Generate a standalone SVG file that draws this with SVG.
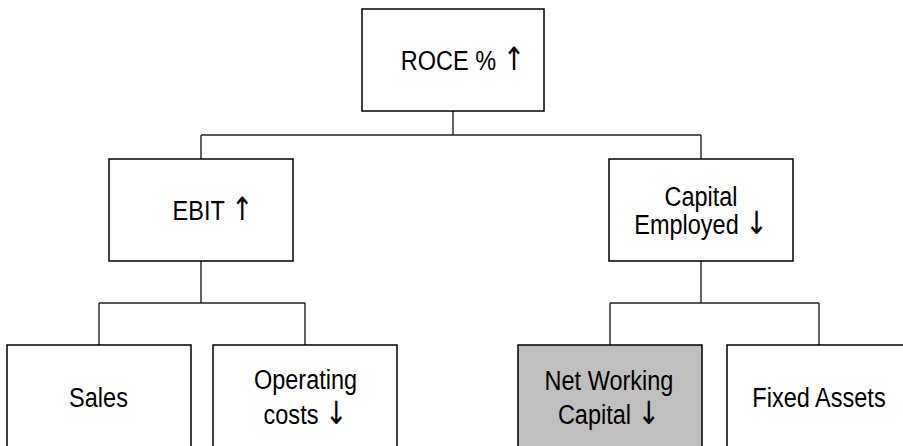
<svg xmlns="http://www.w3.org/2000/svg" width="903" height="446" viewBox="0 0 903 446">
  <style>
    .box { fill: #ffffff; stroke: #000000; stroke-width: 1.5; }
    .box.hl { fill: #bfbfbf; }
    .lbl { font-family: "Liberation Sans", Arial, sans-serif; font-size: 28px; fill: #000000; text-anchor: middle; }
    .arr { font-family: "DejaVu Sans", sans-serif; font-size: 32px; fill: #000000; }
    .wire { fill: none; stroke: #222222; stroke-width: 1.4; }
  </style>

  <!-- tree connectors -->
  <g id="connectors">
    <path class="wire" d="M453 111 V135 M201 135 H701 M201 135 V159 M701 135 V159"/>
    <path class="wire" d="M201 261 V303 M99 303 H305 M99 303 V345 M305 303 V345"/>
    <path class="wire" d="M701 261 V303 M610 303 H819 M610 303 V345 M819 303 V345"/>
  </g>

  <g id="roce">
    <rect class="box" x="362" y="9" width="182" height="102"/>
    <text class="lbl" transform="translate(463 70) scale(0.84 1)">ROCE % <tspan class="arr">↑</tspan></text>
  </g>

  <g id="ebit">
    <rect class="box" x="109" y="159" width="184" height="102"/>
    <text class="lbl" transform="translate(213 220) scale(0.84 1)">EBIT <tspan class="arr">↑</tspan></text>
  </g>

  <g id="capital-employed">
    <rect class="box" x="609" y="159" width="184" height="102"/>
    <text class="lbl" transform="translate(701 205.5) scale(0.84 1)">Capital</text>
    <text class="lbl" transform="translate(701 233.5) scale(0.84 1)">Employed <tspan class="arr">↓</tspan></text>
  </g>

  <g id="sales">
    <rect class="box" x="7" y="345" width="184" height="112"/>
    <text class="lbl" transform="translate(98.5 406.5) scale(0.84 1)">Sales</text>
  </g>

  <g id="operating-costs">
    <rect class="box" x="213" y="345" width="184" height="112"/>
    <text class="lbl" transform="translate(305.5 388.5) scale(0.84 1)">Operating</text>
    <text class="lbl" transform="translate(305.5 423.5) scale(0.84 1)">costs <tspan class="arr">↓</tspan></text>
  </g>

  <g id="net-working-capital">
    <rect class="box hl" x="518" y="345" width="184" height="112"/>
    <text class="lbl" transform="translate(609 389.5) scale(0.84 1)">Net Working</text>
    <text class="lbl" transform="translate(609 423.5) scale(0.84 1)">Capital <tspan class="arr">↓</tspan></text>
  </g>

  <g id="fixed-assets">
    <rect class="box" x="727" y="345" width="184" height="112"/>
    <text class="lbl" transform="translate(819 406.5) scale(0.84 1)">Fixed Assets</text>
  </g>
</svg>
